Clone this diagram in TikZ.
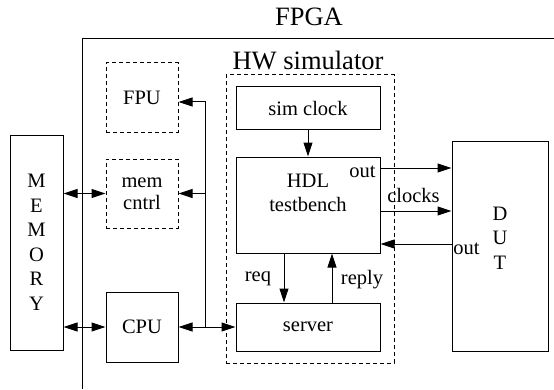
\documentclass[tikz,border=0pt]{standalone}
\usepackage{fontspec}
\setmainfont{Liberation Serif}
\usetikzlibrary{calc}
\usetikzlibrary{arrows.meta}

\newcommand{\bodyfont}{\fontsize{20.5}{24.5}\selectfont}
\newcommand{\titlefont}{\fontsize{26.5}{30}\selectfont}
\tikzset{
  blk/.style={draw, inner sep=0pt, align=center, font=\bodyfont},
  dblk/.style={blk, dash pattern=on 4pt off 3pt},
  lbl/.style={inner sep=0pt, align=center, font=\bodyfont},
  tip/.style={-{Triangle[length=14pt,width=9pt]}},
  tips/.style={{Triangle[length=14pt,width=9pt]}-{Triangle[length=14pt,width=9pt]}},
}

\begin{document}
\begin{tikzpicture}[x=1pt, y=1pt, line width=1pt]
        \useasboundingbox (0,0) rectangle (554,389);
        % FPGA frame
        \draw (82,0) |- (554,350);
        \node[lbl, font=\titlefont] (fpgalbl) at (309,372) {FPGA};
        % blocks
        \node[blk, minimum width=53pt, minimum height=215pt] (memory) at (36.5,146.5) {M\\E\\M\\O\\R\\Y};
        \node[dblk, minimum width=72pt, minimum height=69pt] (fpu) at (142,291.5) {FPU};
        \node[dblk, minimum width=72pt, minimum height=69pt, font=\fontsize{20.5}{22}\selectfont] (memcntrl) at (142,195.5) {mem\\cntrl};
        \node[blk, minimum width=72pt, minimum height=70pt] (cpu) at (142,62) {CPU};
        \node[dblk, minimum width=168pt, minimum height=288pt] (hwsim) at (310,170) {};
        \node[lbl, font=\titlefont] (hwsimlbl) at ($(hwsim.north)+(-2,14)$) {HW simulator};
        \node[blk, minimum width=144pt, minimum height=42pt] (simclock) at (308,281) {sim clock};
        \node[blk, minimum width=144pt, minimum height=96pt] (hdl) at (308,184) {};
        \node[lbl] (hdllbl) at ($(hdl.center)+(0,12)$) {HDL\\testbench};
        \node[blk, minimum width=144pt, minimum height=48pt] (server) at (308,62) {server};
        \node[blk, minimum width=96pt, minimum height=210pt] (dut) at (500,143) {};
        \node[lbl] (dutlbl) at ($(dut.center)+(0,8)$) {D\\U\\T};
        % bus
        \coordinate (busjoin) at ($(cpu.east)+(27,0)$);
        \coordinate (bustop) at ($(busjoin |- fpu.east)+(0,-4.5)$);
        \draw[tips] (memory.east |- memcntrl) -- (memcntrl.west);
        \draw[tips] (memory.east |- cpu) -- (cpu.west);
        \draw[tips] (cpu.east) -- (server.west);
        \draw (busjoin) -- (bustop);
        \draw[tip] (bustop) -- (fpu.east |- bustop);
        \draw[tip] (busjoin |- memcntrl) -- (memcntrl.east);
        % simulator links
        \draw[tip] (simclock) -- (hdl);
        \draw[tip] ([xshift=-24pt]hdl.south) -- ([xshift=-24pt]server.north);
        \draw[tip] ([xshift=24pt]server.north) -- ([xshift=24pt]hdl.south);
        \draw[tip] ([yshift=37pt]hdl.east) -- ([yshift=37pt]hdl.east -| dut.west);
        \draw[tip] ([yshift=-6pt]hdl.east) -- ([yshift=-6pt]hdl.east -| dut.west);
        \draw[tip] ([yshift=-39pt]hdl.east -| dut.west) -- ([yshift=-39pt]hdl.east);
        % labels
        \node[lbl] (outlbl) at ($(hdl.east)+(-18,33)$) {out};
        \node[lbl] (clockslbl) at ($(hdl.east)+(33,10)$) {clocks};
        \node[lbl] (dutoutlbl) at ($(dut.west)+(15,-3)$) {out};
        \node[lbl] (reqlbl) at ($(hdl.south)+(-50,-25)$) {req};
        \node[lbl] (replylbl) at ($(hdl.south)+(54,-26)$) {reply};
    \end{tikzpicture}
\end{document}
